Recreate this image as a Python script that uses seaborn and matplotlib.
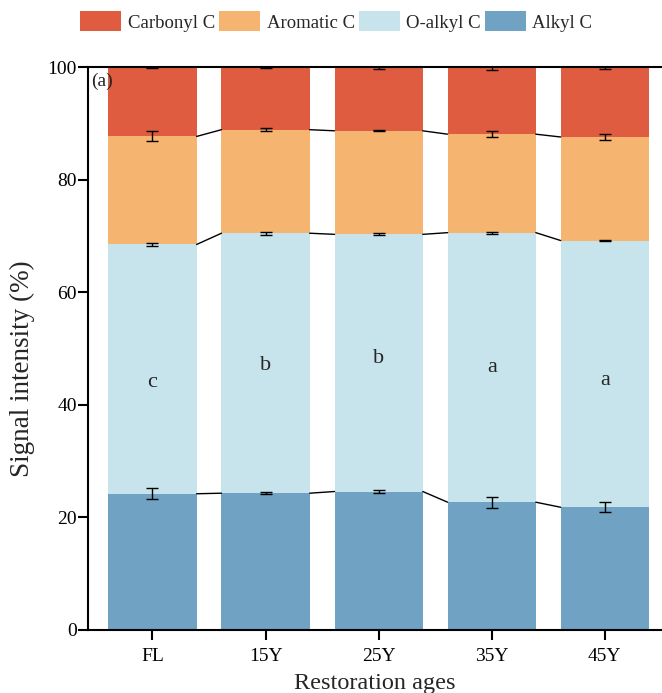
import numpy as np
import pandas as pd
import matplotlib
matplotlib.use("Agg")
import matplotlib.pyplot as plt
import seaborn as sns
from matplotlib.patches import Patch

# ===============================
# DATA
# ===============================
ages = ["FL", "15Y", "25Y", "35Y", "45Y"]
alkyl = [24.2, 24.3, 24.6, 22.7, 21.8]
o_alkyl = [44.3, 46.2, 45.7, 47.9, 47.4]
aromatic = [19.2, 18.4, 18.4, 17.5, 18.4]
carbonyl = [12.3, 11.1, 11.3, 11.9, 12.4]

err_alkyl = [1.0, 0.2, 0.2, 1.0, 0.9]
err_o_alkyl = [0.3, 0.3, 0.2, 0.2, 0.1]
err_aromatic = [0.9, 0.3, 0.1, 0.5, 0.6]
err_carbonyl = [0.1, 0.2, 0.3, 0.5, 0.4]

letters = ["c", "b", "b", "a", "a"]
letter_y = [44.0, 47.0, 48.3, 46.7, 44.4]

names = ["Carbonyl C", "Aromatic C", "O-alkyl C", "Alkyl C"]
colors = ["#E05C40", "#F5B470", "#C7E4EC", "#6FA2C3"]

# cumulative tops for stacking
c_alkyl = np.array(alkyl)
c_oalkyl = c_alkyl + np.array(o_alkyl)
c_arom = c_oalkyl + np.array(aromatic)
c_carb = c_arom + np.array(carbonyl)

df = pd.DataFrame({"age": ages, "alkyl": c_alkyl, "oalkyl": c_oalkyl,
                   "arom": c_arom, "carb": c_carb})

# ===============================
# PLOT
# ===============================
sns.set_style("ticks")
plt.rcParams['font.family'] = ['Liberation Serif', 'DejaVu Serif']

fig = plt.figure(figsize=(6.62, 6.93), dpi=100)
ax = fig.add_axes([0.133, 0.091, 0.866, 0.812])

width = 0.78
layers = [("carb", err_carbonyl), ("arom", err_aromatic),
          ("oalkyl", err_o_alkyl), ("alkyl", err_alkyl)]
for (col, err), color in zip(layers, colors):
    sns.barplot(data=df, x="age", y=col, color=color, width=width,
                saturation=1, ax=ax, errorbar=None, edgecolor="none")
    ax.errorbar(np.arange(len(ages)), df[col], yerr=err, fmt="none",
                ecolor="black", elinewidth=1, capsize=4, capthick=1, zorder=5)

# connecting lines between bars at each boundary
for col in ["arom", "oalkyl", "alkyl"]:
    vals = df[col].values
    for i in range(len(ages) - 1):
        ax.plot([i + width / 2, i + 1 - width / 2], [vals[i], vals[i + 1]],
                color="black", lw=1, zorder=4)

for i, (t, y) in enumerate(zip(letters, letter_y)):
    ax.text(i, y, t, ha="center", va="center", fontsize=16)

ax.text(0.005, 0.99, "(a)", transform=ax.transAxes, ha="left", va="top",
        fontsize=14)

ax.set_ylim(0, 100)
ax.set_xlim(-0.57, 4.5)
ax.set_yticks([0, 20, 40, 60, 80, 100])
ax.set_xlabel("Restoration ages", fontsize=17.5, labelpad=6)
ax.set_ylabel("Signal intensity (%)", fontsize=19.5)
ax.yaxis.set_label_coords(-0.093, 0.465)
ax.tick_params(axis="both", labelsize=14, direction="out", length=7,
               width=1.5, colors="black")
ax.tick_params(axis="y", pad=1)
ax.tick_params(axis="x", pad=6)
for s in ["left", "bottom", "top"]:
    ax.spines[s].set_visible(True)
    ax.spines[s].set_linewidth(1.5)
    ax.spines[s].set_color("black")
ax.spines["right"].set_visible(False)

handles = [Patch(facecolor=c, edgecolor="none", label=n) for n, c in zip(names, colors)]
fig.legend(handles=handles, loc="upper left", bbox_to_anchor=(80 / 662, 1 - 11 / 693),
           ncol=4, frameon=False, fontsize=13.5, handlelength=2.2,
           handleheight=1.3, handletextpad=0.35, columnspacing=0.2,
           borderpad=0, borderaxespad=0)

fig.savefig("out.png", dpi=100)
